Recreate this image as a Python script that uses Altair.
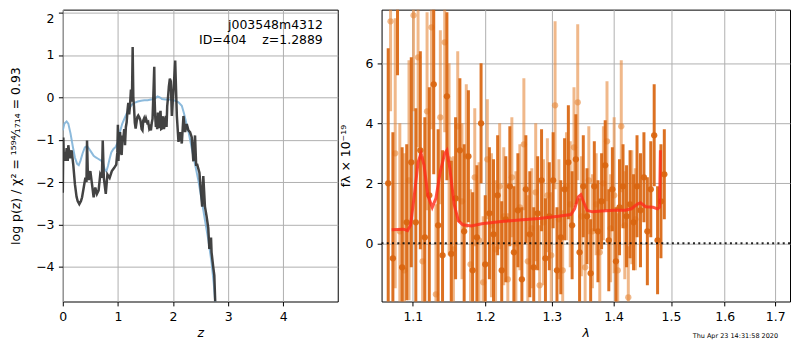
import altair as alt
import pandas as pd

# ---------------- left panel: log p(z) ----------------
z_pz = [0.000, 0.010, 0.020, 0.035, 0.050, 0.070, 0.090, 0.100, 0.130, 0.160, 0.190, 0.220, 0.250, 0.270,
        0.300, 0.330, 0.350, 0.380, 0.410, 0.430, 0.440, 0.455, 0.470, 0.500, 0.530, 0.560, 0.590, 0.620,
        0.650, 0.680, 0.710, 0.725, 0.745, 0.780, 0.810, 0.850, 0.890, 0.930, 0.970, 0.990, 1.000, 1.010,
        1.025, 1.040, 1.055, 1.068, 1.085, 1.099, 1.115, 1.129, 1.145, 1.159, 1.175, 1.189, 1.205, 1.219,
        1.237, 1.255, 1.268, 1.280, 1.292, 1.307, 1.322, 1.337, 1.352, 1.370, 1.388, 1.410, 1.431, 1.446,
        1.460, 1.475, 1.490, 1.510, 1.533, 1.550, 1.569, 1.585, 1.599, 1.615, 1.629, 1.647, 1.660, 1.668,
        1.677, 1.690, 1.702, 1.714, 1.726, 1.738, 1.750, 1.762, 1.774, 1.786, 1.798, 1.810, 1.822, 1.835,
        1.847, 1.859, 1.871, 1.883, 1.895, 1.910, 1.925, 1.943, 1.960, 1.979, 1.995, 2.010, 2.025, 2.040,
        2.055, 2.070, 2.100, 2.130, 2.160, 2.190, 2.220, 2.250, 2.280, 2.310, 2.340, 2.370, 2.400, 2.420,
        2.440, 2.480, 2.500, 2.530, 2.550, 2.580, 2.610, 2.640, 2.660, 2.690, 2.700, 2.730, 2.750, 2.770]
logp = [-2.25, -0.95, -1.50, -1.30, -1.50, -1.20, -1.50, -1.13, -1.44, -1.25, -1.59, -2.05, -2.35, -2.45,
        -2.52, -2.45, -2.36, -2.13, -1.90, -2.00, -1.02, -1.82, -1.95, -1.74, -2.05, -2.36, -2.13, -2.28,
        -2.20, -1.82, -1.90, -1.02, -1.90, -2.28, -1.82, -1.90, -1.74, -1.67, -1.59, -1.30, -0.65, -1.50,
        -1.00, -0.82, -1.30, -1.36, -0.90, -0.97, -0.75, -1.13, -0.70, -0.59, -0.30, -0.13, -0.40, -0.21,
        0.18, -0.10, 1.19, 0.00, -0.21, -0.60, -0.74, -0.60, -0.47, -0.43, -0.47, -0.55, -0.75, -0.78,
        -0.55, -0.50, -0.59, -0.50, -0.60, -0.58, -0.74, -0.70, -0.78, -0.60, -0.51, 0.18, 0.72, -0.10,
        -0.44, -0.70, -0.59, -0.75, -0.36, -0.70, -0.70, -0.40, -0.32, -0.75, -0.74, -0.45, -0.51, -0.75,
        -0.67, -0.50, -0.44, -0.70, -0.21, 0.00, 0.25, 0.44, 0.38, -0.44, -0.10, 0.18, 0.50, 0.87,
        0.20, -0.44, -1.05, -0.82, -1.09, -0.44, -0.82, -0.63, -0.78, -0.82, -0.94, -1.51, -0.90, -1.59,
        -1.59, -1.78, -2.12, -2.58, -1.86, -2.58, -2.81, -3.08, -3.58, -3.31, -3.66, -4.00, -4.20, -4.96]

z_prior = [0.00, 0.03, 0.07, 0.10, 0.14, 0.18, 0.22, 0.26, 0.29, 0.32, 0.36, 0.40, 0.44, 0.48, 0.52,
           0.56, 0.60, 0.64, 0.68, 0.72, 0.76, 0.79, 0.82, 0.85, 0.88, 0.92, 0.96, 1.00, 1.04, 1.08,
           1.12, 1.16, 1.20, 1.25, 1.30, 1.36, 1.42, 1.48, 1.54, 1.60, 1.66, 1.72, 1.76, 1.80, 1.86,
           1.92, 1.98, 2.04, 2.10, 2.16, 2.20, 2.24, 2.28, 2.34, 2.40, 2.46, 2.52, 2.58, 2.64, 2.70,
           2.74, 2.77]
logp_prior = [-0.78, -0.62, -0.57, -0.62, -0.85, -1.15, -1.42, -1.57, -1.60, -1.50, -1.32, -1.18, -1.15,
              -1.22, -1.30, -1.38, -1.42, -1.45, -1.48, -1.52, -1.70, -1.75, -1.62, -1.45, -1.30, -1.22,
              -1.17, -1.05, -0.80, -0.62, -0.50, -0.38, -0.27, -0.18, -0.13, -0.10, -0.08, -0.07, -0.07,
              -0.05, -0.04, 0.02, 0.00, -0.04, -0.05, -0.05, -0.06, -0.08, -0.12, -0.20, -0.38, -0.60,
              -0.80, -1.20, -1.58, -1.96, -2.42, -2.90, -3.35, -3.90, -4.40, -4.90]

# ---------------- right panel: spectrum ----------------
lam_dark = [1.068, 1.074, 1.080, 1.086, 1.092, 1.098, 1.104, 1.110, 1.116, 1.122, 1.128, 1.134, 1.140,
            1.146, 1.152, 1.158, 1.164, 1.170, 1.176, 1.182, 1.188, 1.194, 1.200, 1.206, 1.212, 1.218,
            1.224, 1.230, 1.236, 1.242, 1.248, 1.254, 1.260, 1.266, 1.272, 1.278, 1.284, 1.290, 1.296,
            1.302, 1.308, 1.314, 1.320, 1.326, 1.332, 1.338, 1.344, 1.350, 1.356, 1.362, 1.368, 1.374,
            1.380, 1.386, 1.392, 1.398, 1.404, 1.410, 1.416, 1.422, 1.428, 1.434, 1.440, 1.446, 1.452,
            1.458, 1.464, 1.470, 1.476, 1.482, 1.488]
flux_dark = [2.0, -0.5, 8.6, -0.8, 0.7, 2.7, 0.7, 3.1, 0.2, 1.6, 5.3, 0.6, -0.4,
             4.9, -0.35, 1.5, 3.1, 0.4, 2.9, -0.9, 0.2, 4.0, -0.7, 1.0, 0.3, 1.6,
             -0.9, 0.8, 1.9, -0.3, 1.1, -1.2, 1.8, 0.3, -0.8, 1.0, 2.1, -0.5, 0.9,
             2.1, -0.9, 0.2, 1.8, 2.7, 0.6, 2.8, -0.3, 1.9, 0.9, -1.0, 1.9, 0.4,
             1.4, 2.6, 0.1, 1.8, -0.6, 1.2, 1.9, 0.9, 1.3, 0.7, 1.9, 1.1, 2.2,
             0.4, 1.8, 3.6, 0.1, 1.4, 2.3]
err_dark = [4.5, 4.2, 3.0, 4.0, 2.6, 3.5, 3.8, 3.3, 4.0, 3.6, 3.0, 3.2, 3.5,
            2.8, 3.1, 2.7, 2.4, 2.9, 2.2, 2.6, 2.4, 2.0, 2.3, 2.2, 2.5, 2.0,
            2.3, 2.1, 2.0, 2.2, 1.9, 2.4, 1.8, 2.1, 2.0, 1.9, 1.7, 2.0, 1.8,
            1.6, 2.1, 1.9, 1.7, 1.9, 1.8, 1.5, 1.8, 1.7, 1.6, 1.8, 1.5, 1.7,
            1.6, 1.5, 1.7, 1.4, 1.8, 1.6, 1.4, 1.7, 1.8, 1.6, 1.7, 1.9, 1.5,
            1.8, 1.6, 1.7, 1.8, 1.9, 1.5]

lam_light = [1.071, 1.077, 1.083, 1.089, 1.095, 1.101, 1.107, 1.113, 1.119, 1.125, 1.131, 1.137, 1.143,
             1.149, 1.155, 1.161, 1.167, 1.173, 1.179, 1.185, 1.191, 1.197, 1.203, 1.209, 1.215, 1.221,
             1.227, 1.233, 1.239, 1.245, 1.251, 1.257, 1.263, 1.269, 1.275, 1.281, 1.287, 1.293, 1.299,
             1.305, 1.311, 1.317, 1.323, 1.329, 1.335, 1.341, 1.347, 1.353, 1.359, 1.365, 1.371, 1.377,
             1.383, 1.389, 1.395, 1.401, 1.407, 1.413, 1.419, 1.425, 1.431, 1.437]
flux_light = [7.4, 3.0, 0.4, -0.9, 2.1, 7.6, 6.2, -0.6, 4.4, 7.2, -1.7, 4.2, 6.7,
              2.8, -0.2, 3.9, 1.4, 2.9, -0.7, 2.2, 0.1, -1.3, 2.8, 0.6, -0.2, 1.9,
              0.9, -1.2, 2.2, 0.0, 1.2, 3.3, -0.6, 0.5, 1.7, -1.4, 0.7, 1.6, -0.4,
              4.6, 0.8, -0.9, 1.9, 1.3, 3.2, 4.7, 0.9, -0.8, 2.1, 0.4, 1.3, -0.3,
              2.0, 3.4, 0.5, 1.6, -0.9, 3.9, 0.6, -1.8, 1.2, 0.8]
err_light = [3.0, 4.5, 3.6, 3.9, 4.0, 3.2, 3.0, 3.5, 3.3, 3.4, 3.0, 2.9, 3.0,
             3.2, 3.1, 2.5, 2.6, 2.4, 2.5, 2.3, 2.6, 2.2, 2.0, 2.4, 2.3, 2.1,
             2.3, 2.2, 2.0, 2.4, 2.1, 2.2, 2.2, 2.0, 2.3, 2.0, 2.1, 1.9, 2.1,
             2.8, 2.0, 2.0, 1.8, 2.1, 2.0, 2.6, 2.0, 1.9, 1.8, 1.9, 1.7, 1.8,
             1.9, 2.0, 1.8, 2.6, 1.9, 2.2, 1.8, 1.7, 1.9, 1.7]

model_lam = [1.0725, 1.080, 1.088, 1.093, 1.097, 1.102, 1.107, 1.111, 1.115, 1.120, 1.126, 1.131, 1.137,
             1.143, 1.146, 1.150, 1.156, 1.162, 1.168, 1.180, 1.195, 1.220, 1.250, 1.280, 1.310, 1.330,
             1.336, 1.342, 1.346, 1.350, 1.356, 1.365, 1.380, 1.400, 1.420, 1.430, 1.440, 1.446, 1.455,
             1.468, 1.476, 1.4795, 1.481]
model_flux = [0.45, 0.46, 0.47, 0.42, 0.60, 1.60, 2.70, 3.00, 2.60, 1.60, 1.20, 1.50, 2.40,
              3.00, 3.10, 2.50, 1.30, 0.75, 0.62, 0.58, 0.65, 0.72, 0.78, 0.83, 0.90, 0.96,
              1.15, 1.55, 1.62, 1.40, 1.10, 1.05, 1.08, 1.10, 1.10, 1.15, 1.30, 1.35, 1.22,
              1.20, 1.15, 1.20, 3.10]

W_L, W_R, H = 276, 410, 293
FONT = "DejaVu Sans"

# ---- left chart ----
df_pz = pd.DataFrame({"z": z_pz, "v": logp})
df_prior = pd.DataFrame({"z": z_prior, "v": logp_prior})
one = pd.DataFrame({"a": [0]})

xL = alt.X("z:Q", scale=alt.Scale(domain=[0, 4.99], nice=False, zero=False),
           axis=alt.Axis(values=[0, 1, 2, 3, 4], format="d", title="z", titleFontStyle="italic",
                         titlePadding=4))
yL = alt.Y("v:Q", scale=alt.Scale(domain=[-4.82, 2.07], nice=False, zero=False),
           axis=alt.Axis(values=[-4, -3, -2, -1, 0, 1, 2], format="d", labelFlush=4,
                         title="log p(z) / χ² = ¹⁵⁹⁴⁄₁₇₁₄ = 0.93", titlePadding=13.5))

pz_line = alt.Chart(df_pz).mark_line(color="#333333", strokeWidth=2.5, opacity=0.92, clip=True).encode(
    x=xL, y=yL, order="z:Q")
prior_line = alt.Chart(df_prior).mark_line(color="#7fb3d8", strokeWidth=2, opacity=0.9, clip=True).encode(
    x="z:Q", y="v:Q", order="z:Q")
txt1 = alt.Chart(one).mark_text(text="j003548m4312", align="right", baseline="middle",
                                font=FONT, fontSize=12.5, color="black").encode(
    x=alt.value(W_L - 15), y=alt.value(15.5))
txt2 = alt.Chart(one).mark_text(text="ID=404\u00a0\u00a0\u00a0\u00a0z=1.2889", align="right",
                                baseline="middle", font=FONT, fontSize=12.5, color="black").encode(
    x=alt.value(W_L - 15), y=alt.value(30.5))

left = alt.layer(prior_line, pz_line, txt1, txt2).properties(width=W_L, height=H)

# ---- right chart ----
df_dark = pd.DataFrame({"lam": lam_dark, "f": flux_dark, "e": err_dark})
df_light = pd.DataFrame({"lam": lam_light, "f": flux_light, "e": err_light})
df_model = pd.DataFrame({"lam": model_lam, "f": model_flux})

xR = alt.X("lam:Q", scale=alt.Scale(type="log", domain=[1.0595, 1.7305], nice=False, zero=False),
           axis=alt.Axis(values=[1.1, 1.2, 1.3, 1.4, 1.5, 1.6, 1.7], format=".1f", title="λ",
                         titleFontStyle="italic", titlePadding=4))
yR = alt.Y("lo:Q", scale=alt.Scale(domain=[-1.94, 7.79], nice=False, zero=False),
           axis=alt.Axis(values=[0, 2, 4, 6], format="d", title="fλ × 10⁻¹⁹", titlePadding=12))

def bars(df, color, op):
    base = alt.Chart(df).transform_calculate(lo="datum.f - datum.e", hi="datum.f + datum.e")
    rule = base.mark_rule(color=color, strokeWidth=3, opacity=op, clip=True).encode(
        x=xR, y=yR, y2="hi:Q")
    pts = alt.Chart(df).mark_circle(color=color, size=40, opacity=op, clip=True).encode(
        x="lam:Q", y="f:Q")
    return rule, pts

l_rule, l_pts = bars(df_light, "#e6883c", 0.6)
d_rule, d_pts = bars(df_dark, "#d9650f", 0.92)

model = alt.Chart(df_model).mark_line(color="#ff2a1a", strokeWidth=3, opacity=0.8, clip=True).encode(
    x="lam:Q", y="f:Q", order="lam:Q")
zero = alt.Chart(one).mark_rule(color="black", strokeWidth=2, strokeDash=[2, 3.3], opacity=0.85).encode(
    y=alt.datum(0))
stamp = alt.Chart(one).mark_text(text="Thu Apr 23 14:31:58 2020", align="right", baseline="middle",
                                 font=FONT, fontSize=6.5, color="black").encode(
    x=alt.value(W_R - 12), y=alt.value(H + 35))

right = alt.layer(l_rule, l_pts, d_rule, d_pts, model, zero, stamp).properties(width=W_R, height=H)

chart = alt.hconcat(left, right, spacing=44, bounds="flush").properties(
    padding=0
).configure_view(
    stroke="black", strokeWidth=1
).configure_axis(
    labelFont=FONT, labelFontSize=12.5, labelColor="black",
    titleFont=FONT, titleFontSize=12.5, titleFontWeight="normal", titleColor="black",
    tickColor="black", tickSize=4.4, tickWidth=1, labelPadding=4.4,
    domain=False, grid=True, gridColor="#b0b0b0", gridWidth=1,
    labelFlush=False, labelOverlap=False
)

chart.save("out.html", embed_options={"renderer": "svg", "actions": False})
